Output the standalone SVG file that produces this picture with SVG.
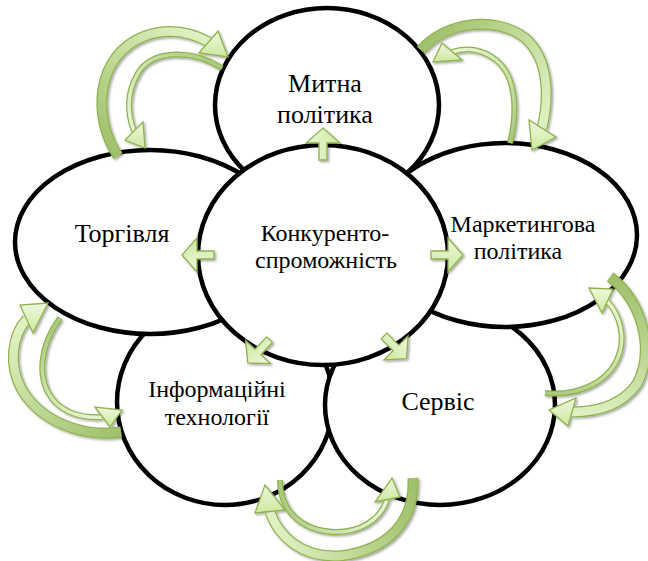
<svg xmlns="http://www.w3.org/2000/svg" width="648" height="561" viewBox="0 0 648 561">
<defs>
<style>
.el{fill:#fff;stroke:#000;stroke-width:4.5}
.t{font-family:"Liberation Serif","Times New Roman",serif;fill:#000;text-anchor:middle}
.s24{font-size:24px}
.s26{font-size:26px}
.bo{fill:none;stroke:#8fb250;stroke-linecap:butt}
.hd{fill:url(#hg);stroke:#8fb250;stroke-width:1.3;stroke-linejoin:miter}
.ba{fill:url(#hg);stroke:#8fb250;stroke-width:1.3}
</style>
<filter id="sh" x="-20%" y="-20%" width="140%" height="140%">
<feDropShadow dx="1.5" dy="1.5" stdDeviation="0.8" flood-color="#000" flood-opacity="0.35"/>
</filter>
<linearGradient id="hg" x1="0" y1="0" x2="0" y2="1">
<stop offset="0" stop-color="#eef8dc"/>
<stop offset="1" stop-color="#cde8a0"/>
</linearGradient>
<linearGradient id="gA1" gradientUnits="userSpaceOnUse" x1="118" y1="156" x2="209" y2="42"><stop offset="0" stop-color="#a0c16c"/><stop offset="1" stop-color="#dff1c2"/></linearGradient>
<linearGradient id="gA2" gradientUnits="userSpaceOnUse" x1="222" y1="68" x2="134" y2="131"><stop offset="0" stop-color="#a9c97a"/><stop offset="1" stop-color="#e6f5d0"/></linearGradient>
<linearGradient id="gB1" gradientUnits="userSpaceOnUse" x1="421" y1="50" x2="542" y2="128"><stop offset="0" stop-color="#a0c16c"/><stop offset="1" stop-color="#dff1c2"/></linearGradient>
<linearGradient id="gB2" gradientUnits="userSpaceOnUse" x1="510" y1="143" x2="452" y2="52"><stop offset="0" stop-color="#a9c97a"/><stop offset="1" stop-color="#e6f5d0"/></linearGradient>
<linearGradient id="gC1" gradientUnits="userSpaceOnUse" x1="610" y1="277" x2="572" y2="412"><stop offset="0" stop-color="#a0c16c"/><stop offset="1" stop-color="#dff1c2"/></linearGradient>
<linearGradient id="gC2" gradientUnits="userSpaceOnUse" x1="545" y1="393" x2="607" y2="301"><stop offset="0" stop-color="#a9c97a"/><stop offset="1" stop-color="#e6f5d0"/></linearGradient>
<linearGradient id="gD1" gradientUnits="userSpaceOnUse" x1="121" y1="432" x2="27" y2="319"><stop offset="0" stop-color="#a0c16c"/><stop offset="1" stop-color="#dff1c2"/></linearGradient>
<linearGradient id="gD2" gradientUnits="userSpaceOnUse" x1="60" y1="318" x2="102" y2="417"><stop offset="0" stop-color="#a9c97a"/><stop offset="1" stop-color="#e6f5d0"/></linearGradient>
<linearGradient id="gE1" gradientUnits="userSpaceOnUse" x1="413" y1="478" x2="270" y2="512"><stop offset="0" stop-color="#a0c16c"/><stop offset="1" stop-color="#dff1c2"/></linearGradient>
<linearGradient id="gE2" gradientUnits="userSpaceOnUse" x1="280" y1="480" x2="387" y2="500"><stop offset="0" stop-color="#a9c97a"/><stop offset="1" stop-color="#e6f5d0"/></linearGradient>
<polygon id="blk" points="-17,-4 0,-4 0,-17 15,0 0,17 0,4 -17,4"/>
</defs>

<g id="node-informatsiini">
<ellipse class="el" cx="225" cy="402" rx="108" ry="103"/>
<text class="t s24" x="217" y="397">Інформаційні</text>
<text class="t s24" x="217" y="425">технології</text>
</g>
<g id="node-servis">
<ellipse class="el" cx="440" cy="405" rx="115" ry="100"/>
<text class="t s26" x="438" y="410">Сервіс</text>
</g>
<g id="node-torhivlia">
<ellipse class="el" cx="150" cy="242" rx="135" ry="92"/>
<text class="t s26" x="122" y="242">Торгівля</text>
</g>
<g id="node-marketynh">
<ellipse class="el" cx="505" cy="235" rx="132" ry="92"/>
<text class="t s24" x="523" y="232">Маркетингова</text>
<text class="t s24" x="518" y="259">політика</text>
</g>
<g id="node-mytna">
<ellipse class="el" cx="327" cy="105" rx="112" ry="97"/>
<text class="t s26" x="325" y="92">Митна</text>
<text class="t s26" x="325" y="123">політика</text>
</g>
<g id="node-center">
<ellipse class="el" cx="323" cy="255" rx="125" ry="110"/>
<text class="t s24" x="325" y="241">Конкуренто-</text>
<text class="t s24" x="326" y="268">спроможність</text>
</g>

<g id="connectors" filter="url(#sh)">
<g id="pairA">
<path class="bo" stroke-width="11" d="M118,156 C92,118 95,55 145,36 C170,27 192,33 209,42"/>
<path fill="none" stroke="url(#gA1)" stroke-width="8.5" d="M118,156 C92,118 95,55 145,36 C170,27 192,33 209,42"/>
<polygon class="hd" points="199,53 218,31 228,57"/>
<path class="bo" stroke-width="6" d="M222,68 C190,48 150,50 137,75 C126,95 128,115 134,131"/>
<path fill="none" stroke="url(#gA2)" stroke-width="3.5" d="M222,68 C190,48 150,50 137,75 C126,95 128,115 134,131"/>
<polygon class="hd" points="125,140 143,122 145,148"/>
</g>
<g id="pairB">
<path class="bo" stroke-width="11" d="M421,50 C445,22 495,15 525,38 C548,58 550,95 542,128"/>
<path fill="none" stroke="url(#gB1)" stroke-width="8.5" d="M421,50 C445,22 495,15 525,38 C548,58 550,95 542,128"/>
<polygon class="hd" points="529,120 556,137 532,150"/>
<path class="bo" stroke-width="6" d="M510,143 C518,110 516,76 496,60 C482,49 466,47 452,52"/>
<path fill="none" stroke="url(#gB2)" stroke-width="3.5" d="M510,143 C518,110 516,76 496,60 C482,49 466,47 452,52"/>
<polygon class="hd" points="442,43 462,60 433,62"/>
</g>
<g id="pairC">
<path class="bo" stroke-width="11" d="M610,277 C640,298 656,348 637,384 C622,405 597,412 572,412"/>
<path fill="none" stroke="url(#gC1)" stroke-width="8.5" d="M610,277 C640,298 656,348 637,384 C622,405 597,412 572,412"/>
<polygon class="hd" points="576,398 568,426 549,410"/>
<path class="bo" stroke-width="6" d="M545,393 C575,396 605,385 617,360 C627,338 620,315 607,301"/>
<path fill="none" stroke="url(#gC2)" stroke-width="3.5" d="M545,393 C575,396 605,385 617,360 C627,338 620,315 607,301"/>
<polygon class="hd" points="613,289 602,313 589,288"/>
</g>
<g id="pairD">
<path class="bo" stroke-width="11" d="M121,432 C80,438 40,420 22,390 C8,365 12,335 27,319"/>
<path fill="none" stroke="url(#gD1)" stroke-width="8.5" d="M121,432 C80,438 40,420 22,390 C8,365 12,335 27,319"/>
<polygon class="hd" points="20,305 33,333 48,303"/>
<path class="bo" stroke-width="6" d="M60,318 C40,345 35,380 55,402 C68,415 85,418 102,417"/>
<path fill="none" stroke="url(#gD2)" stroke-width="3.5" d="M60,318 C40,345 35,380 55,402 C68,415 85,418 102,417"/>
<polygon class="hd" points="95,407 110,427 122,410"/>
</g>
<g id="pairE">
<path class="bo" stroke-width="11" d="M413,478 C415,520 390,550 340,556 C300,558 278,535 270,512"/>
<path fill="none" stroke="url(#gE1)" stroke-width="8.5" d="M413,478 C415,520 390,550 340,556 C300,558 278,535 270,512"/>
<polygon class="hd" points="255,513 285,510 265,485"/>
<path class="bo" stroke-width="6" d="M280,480 C280,510 300,530 333,532 C360,533 380,520 387,500"/>
<path fill="none" stroke="url(#gE2)" stroke-width="3.5" d="M280,480 C280,510 300,530 333,532 C360,533 380,520 387,500"/>
<polygon class="hd" points="375,502 400,497 392,478"/>
</g>
<g id="center-arrows">
<use href="#blk" class="ba" transform="translate(323,143) rotate(-90)"/>
<use href="#blk" class="ba" transform="translate(197,255) rotate(180)"/>
<use href="#blk" class="ba" transform="translate(448,255)"/>
<use href="#blk" class="ba" transform="translate(258,352) rotate(133)"/>
<use href="#blk" class="ba" transform="translate(396,348) rotate(45)"/>
</g>
</g>
</svg>
